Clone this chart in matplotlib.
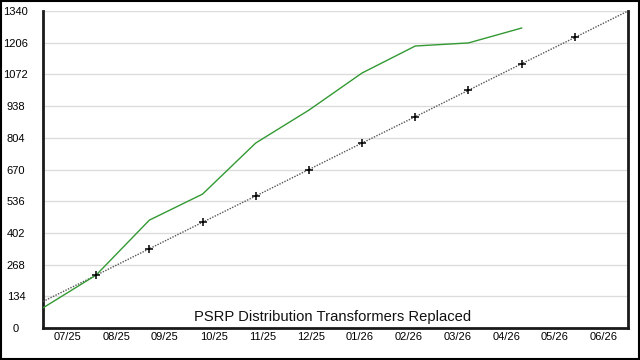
import matplotlib
matplotlib.use("Agg")
import matplotlib.pyplot as plt
import numpy as np

plt.rcParams['font.family'] = ['Liberation Sans', 'DejaVu Sans']

months = ["07/25", "08/25", "09/25", "10/25", "11/25", "12/25",
          "01/26", "02/26", "03/26", "04/26", "05/26", "06/26"]
target = [112, 223, 335, 447, 558, 670, 782, 893, 1005, 1117, 1228, 1340]
actual = [85, 224, 456, 566, 782, 921, 1078, 1192, 1205, 1268]
yticks = [0, 134, 268, 402, 536, 670, 804, 938, 1072, 1206, 1340]
title = "PSRP Distribution Transformers Replaced"

fig = plt.figure(figsize=(6.4, 3.6), dpi=100)
fig.patch.set_facecolor('white')
ax = fig.add_axes([43/640, 32/360, (628-43)/640, (328-11)/360])

n = len(target)
xt = np.arange(n)
ax.plot(xt, target, color='#555555', linestyle=(0, (1, 1)), lw=1.0, zorder=3)
ax.plot(xt, target, linestyle='none', marker='+', markersize=5.5,
        markeredgewidth=1.1, markeredgecolor='black', markevery=list(range(1, n - 1)),
        zorder=5)
ax.plot(np.arange(len(actual)), actual, color='#339933', lw=1.0, zorder=4)

ax.set_xlim(0, n - 1)
ax.set_ylim(0, 1340)
ax.set_yticks(yticks)
ax.set_yticklabels([str(v) for v in yticks], ha='center')
ax.tick_params(axis='y', length=0, pad=19.5, labelsize=8)
band = (n - 1) / len(months)
ax.set_xticks([(k + 0.5) * band for k in range(len(months))])
ax.set_xticklabels(months)
ax.tick_params(axis='x', length=0, pad=3, labelsize=8)
ax.grid(axis='y', color='#dcdcdc', lw=1)
ax.set_axisbelow(True)

for s in ['left', 'bottom', 'right']:
    ax.spines[s].set_linewidth(2)
    ax.spines[s].set_color('#1a1a1a')
ax.spines['top'].set_visible(False)

ax.text(0.495, 0.012, title, transform=ax.transAxes, ha='center', va='bottom',
        fontsize=10.6, color='#111111')

border = plt.Rectangle((0.001, 0.002), 0.997, 0.995, transform=fig.transFigure,
                       fill=False, edgecolor='black', lw=1.5)
fig.patches.append(border)

fig.savefig("out.png", dpi=100)
